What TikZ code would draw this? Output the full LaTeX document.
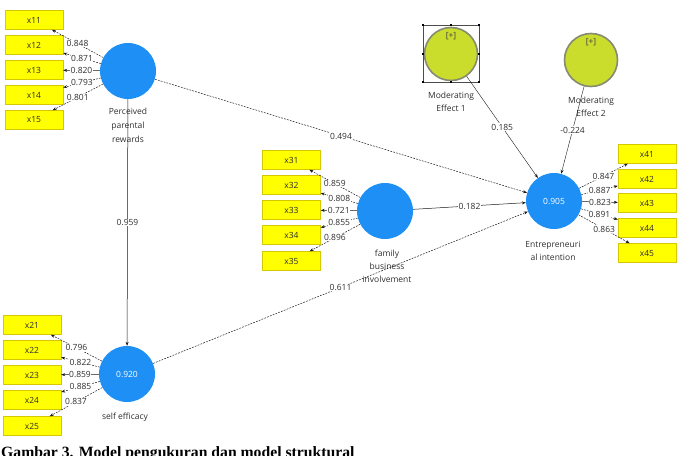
\documentclass[tikz,border=0pt]{standalone}
\usepackage{fontspec}
\setmainfont{Open Sans}
\newfontfamily\capfont{Liberation Serif}
\usetikzlibrary{arrows.meta}
\definecolor{lvblue}{HTML}{1E90F5}
\definecolor{modgreen}{HTML}{CADC2C}
\definecolor{modgray}{HTML}{858B70}
\definecolor{indyellow}{HTML}{FFFF00}
\definecolor{indborder}{HTML}{D6C800}
\definecolor{txt}{HTML}{2E2E2E}
\begin{document}
\begin{tikzpicture}[x=1pt,y=-1pt,
  font=\fontsize{8.5}{10}\selectfont,
  lv/.style={circle, fill=lvblue, minimum size=56pt, inner sep=0pt, text=white},
  modc/.style={circle, fill=modgreen, draw=modgray, line width=1.6pt, minimum size=53pt, inner sep=0pt},
  ind/.style={rectangle, fill=indyellow, draw=indborder, line width=0.4pt, minimum width=58pt, minimum height=19pt, inner sep=0pt, text=txt},
  lbl/.style={fill=white, inner sep=0.5pt, text=txt},
  lvtext/.style={align=center, text=txt},
  arr/.style={-{Stealth[length=4pt,width=3pt]}, line width=0.5pt, draw=black!90},
  dsh/.style={arr, dash pattern=on 1.8pt off 1.2pt},
  hdl/.style={fill=black, inner sep=0pt, minimum size=2pt}
]
\useasboundingbox (0,0) rectangle (684,455);

% latent variables
\node[lv] (P) at (128,71) {};
\node[lv] (S) at (127,374) {0.920};
\node[lv] (F) at (385,211) {};
\node[lv] (E) at (554,201) {0.905};
\node[modc] (M1) at (451,54) {};
\node[modc] (M2) at (591,60) {};
\node[text=black!75] (m1p) at (451,36) {[+]};
\node[text=black!75] (m2p) at (591,42) {[+]};

% selection frame around M1
\draw[black!70, line width=0.4pt] (423,25) rectangle (479,82);
\foreach \hx in {423,451,479}{\node[hdl] (h\hx a) at (\hx,25) {}; \node[hdl] (h\hx b) at (\hx,82) {};}
\node[hdl] (hl) at (423,54) {};
\node[hdl] (hr) at (479,54) {};

% captions of latent variables
\node[lvtext, font=\fontsize{8.5}{14}\selectfont] (Pl) at (128,125) {Perceived\\parental\\rewards};
\node[lvtext] (Sl) at (125,417) {self efficacy};
\node[lvtext, font=\fontsize{8.5}{13}\selectfont] (Fl) at (387,266) {family\\business\\involvement};
\node[lvtext, font=\fontsize{8.5}{12.5}\selectfont] (El) at (553,251) {Entrepreneuri\\al intention};
\node[lvtext, font=\fontsize{8.5}{12.5}\selectfont] (M1l) at (451,102) {Moderating\\Effect 1};
\node[lvtext, font=\fontsize{8.5}{13.5}\selectfont] (M2l) at (591,107) {Moderating\\Effect 2};

% indicators
\foreach \i/\y in {1/20,2/45,3/70,4/95,5/120}{\node[ind] (x1\i) at (34,\y) {x1\i};}
\foreach \i/\y in {1/325,2/350,3/375,4/400,5/426}{\node[ind] (x2\i) at (32,\y) {x2\i};}
\foreach \i/\y in {1/160,2/185,3/210,4/235,5/261}{\node[ind] (x3\i) at (291.5,\y) {x3\i};}
\foreach \i/\y in {1/154,2/179,3/203,4/228,5/253}{\node[ind] (x4\i) at (647,\y) {x4\i};}

% outer loadings
\draw[dsh] (P) -- node[lbl,pos=0.5] {0.848} (x11);
\draw[dsh] (P) -- node[lbl,pos=0.5] {0.871} (x12);
\draw[arr] (P) -- node[lbl,pos=0.5] {0.820} (x13);
\draw[dsh] (P) -- node[lbl,pos=0.5] {0.793} (x14);
\draw[dsh] (P) -- node[lbl,pos=0.5] {0.801} (x15);

\draw[dsh] (S) -- node[lbl,pos=0.5] {0.796} (x21);
\draw[dsh] (S) -- node[lbl,pos=0.5] {0.822} (x22);
\draw[arr] (S) -- node[lbl,pos=0.5] {0.859} (x23);
\draw[dsh] (S) -- node[lbl,pos=0.5] {0.885} (x24);
\draw[dsh] (S) -- node[lbl,pos=0.5] {0.837} (x25);

\draw[dsh] (F) -- node[lbl,pos=0.5] {0.859} (x31);
\draw[dsh] (F) -- node[lbl,pos=0.5] {0.808} (x32);
\draw[arr] (F) -- node[lbl,pos=0.5] {0.721} (x33);
\draw[dsh] (F) -- node[lbl,pos=0.5] {0.855} (x34);
\draw[dsh] (F) -- node[lbl,pos=0.5] {0.896} (x35);

\draw[dsh] (E) -- node[lbl,pos=0.5] {0.847} (x41);
\draw[dsh] (E) -- node[lbl,pos=0.5] {0.887} (x42);
\draw[arr] (E) -- node[lbl,pos=0.5] {0.823} (x43);
\draw[dsh] (E) -- node[lbl,pos=0.5] {0.891} (x44);
\draw[dsh] (E) -- node[lbl,pos=0.5] {0.863} (x45);

% structural paths
\draw[dsh] (P) -- node[lbl,pos=0.5] {0.494} (E);
\draw[arr] (P) -- node[lbl,pos=0.5] {0.959} (S);
\draw[arr] (F) -- node[lbl,pos=0.5] {0.182} (E);
\draw[dsh] (S) -- node[lbl,pos=0.5] {0.611} (E);
\draw[arr, line width=0.4pt] (M1) -- node[lbl,pos=0.5] {0.185} (E);
\draw[arr, line width=0.4pt] (M2) -- node[lbl,pos=0.5] {-0.224} (E);

% figure caption (cut by the page edge, as in the reference)
\node[anchor=base west, inner sep=0pt, font=\capfont\bfseries\fontsize{15.7}{18}\selectfont] (figcap) at (1,457.5) {Gambar 3. Model pengukuran dan model struktural};
\end{tikzpicture}
\end{document}
